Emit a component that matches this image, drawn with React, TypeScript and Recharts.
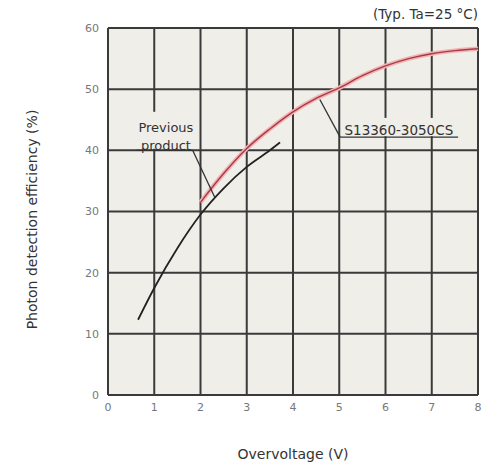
import React from 'react';
import { LineChart, Line, XAxis, YAxis, CartesianGrid, ReferenceArea, ReferenceLine, ReferenceDot, Label } from 'recharts';

const xTicks = [0, 1, 2, 3, 4, 5, 6, 7, 8];
const yTicks = [0, 10, 20, 30, 40, 50, 60];

const prevX = [0.65, 1, 1.5, 2, 2.5, 3, 3.5, 3.72];
const prevY = [12.3, 17.5, 24, 29.5, 33.8, 37.3, 40, 41.3];

const newX = [2, 2.5, 3, 3.5, 4, 4.5, 5, 5.5, 6, 6.5, 7, 7.5, 8];
const newY = [31.5, 36.2, 40.3, 43.5, 46.3, 48.5, 50.2, 52.2, 53.8, 55, 55.8, 56.3, 56.6];

const prevLabel = ['Previous', 'product'];
const newLabel = ['S13360-3050CS'];
const titleText = '(Typ. Ta=25 °C)';

const prevData = prevX.map((x, i) => ({ x, y: prevY[i] }));
const newData = newX.map((x, i) => ({ x, y: newY[i] }));

const FONT = 'DejaVu Sans';
const BG = '#efeee9';
const INK = '#333333';

const textLabel = (text: string, anchor: 'start' | 'middle' | 'end', size: number, color: string) =>
  (props: any) => {
    const vb = props.viewBox || { x: 0, y: 0, width: 0, height: 0 };
    const cx = vb.x + (vb.width || 0) / 2;
    const cy = vb.y + (vb.height || 0) / 2;
    return (
      <text x={cx} y={cy} dy="0.35em" textAnchor={anchor} fontFamily={FONT} fontSize={size} fill={color}>
        {text}
      </text>
    );
  };

// background box with text lines placed at fractional heights of the box
const boxLabel = (lines: string[], fys: number[], fx: number, size: number) =>
  (props: any) => {
    const vb = props.viewBox || { x: 0, y: 0, width: 0, height: 0 };
    return (
      <g>
        <rect x={vb.x} y={vb.y} width={vb.width} height={vb.height} fill={BG} />
        {lines.map((t, i) => (
          <text
            key={t}
            x={vb.x + vb.width * fx}
            y={vb.y + vb.height * fys[i]}
            dy="0.35em"
            textAnchor="middle"
            fontFamily={FONT}
            fontSize={size}
            fill={INK}
          >
            {t}
          </text>
        ))}
      </g>
    );
  };

export default function App() {
  return (
    <div style={{ position: 'absolute', left: 0, top: 0, background: '#ffffff' }}>
      <LineChart width={485} height={465} margin={{ top: 28, right: 7, left: 0, bottom: 0 }}>
        <CartesianGrid stroke="#3a3a3a" strokeWidth={2} fill={BG} fillOpacity={1} />
        <XAxis
          type="number"
          dataKey="x"
          domain={[0, 8]}
          ticks={xTicks}
          height={70}
          axisLine={false}
          tickLine={false}
          tickSize={6}
          tickMargin={2}
          tick={{ fontFamily: FONT, fontSize: 11, fill: '#777' }}
        >
          <Label value="Overvoltage (V)" position="insideBottom" offset={6} style={{ fontFamily: FONT, fontSize: 14, fill: INK }} />
        </XAxis>
        <YAxis
          type="number"
          domain={[0, 60]}
          ticks={yTicks}
          width={108}
          axisLine={false}
          tickLine={false}
          tickSize={6}
          tickMargin={3}
          tick={{ fontFamily: FONT, fontSize: 11, fill: '#777' }}
        >
          <Label
            value="Photon detection efficiency (%)"
            angle={-90}
            position="insideLeft"
            offset={32}
            dy={8}
            style={{ fontFamily: FONT, fontSize: 14, fill: INK, textAnchor: 'middle' }}
          />
        </YAxis>

        <Line data={prevData} dataKey="y" type="monotone" stroke="#222" strokeWidth={1.8} dot={false} isAnimationActive={false} />
        <Line data={newData} dataKey="y" type="monotone" stroke="#f2b3b5" strokeWidth={4.5} dot={false} isAnimationActive={false} />
        <Line data={newData} dataKey="y" type="monotone" stroke="#a83a44" strokeWidth={1.4} dot={false} isAnimationActive={false} />

        <ReferenceArea x1={0.55} x2={1.9} y1={40.25} y2={46.3} fill="none" stroke="none" ifOverflow="visible"
          label={boxLabel(prevLabel, [0.41, 0.9], 0.52, 13)} />
        <ReferenceArea x1={5.06} x2={7.62} y1={42.3} y2={45.3} fill="none" stroke="none" ifOverflow="visible"
          label={boxLabel(newLabel, [0.7], 0.48, 13.5)} />

        <ReferenceLine segment={[{ x: 0.62, y: 40 }, { x: 1.83, y: 40 }]} stroke={INK} strokeWidth={1.3} ifOverflow="visible" />
        <ReferenceLine segment={[{ x: 1.83, y: 40 }, { x: 2.31, y: 32.3 }]} stroke={INK} strokeWidth={1.3} ifOverflow="visible" />
        <ReferenceLine segment={[{ x: 4.58, y: 48.3 }, { x: 5.02, y: 42.15 }]} stroke={INK} strokeWidth={1.3} ifOverflow="visible" />
        <ReferenceLine segment={[{ x: 5.02, y: 42.15 }, { x: 7.57, y: 42.15 }]} stroke={INK} strokeWidth={1.3} ifOverflow="visible" />

        <ReferenceDot x={8} y={62.2} r={0} ifOverflow="visible" label={textLabel(titleText, 'end', 13.5, INK)} />
      </LineChart>
    </div>
  );
}
